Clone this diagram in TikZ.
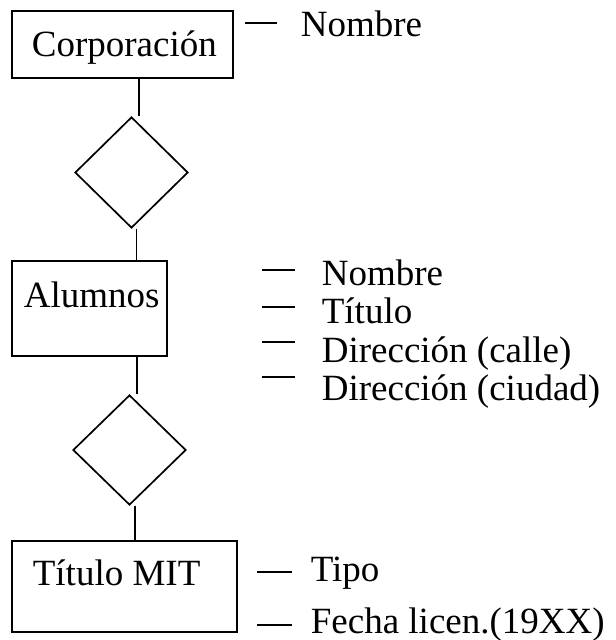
\documentclass[tikz,border=0pt]{standalone}
\usepackage{fontspec}
\setmainfont{Liberation Serif}
\usetikzlibrary{shapes.geometric,calc}
\begin{document}
\begin{tikzpicture}[x=1bp,y=-1bp,line width=1.7bp,
  entitybox/.style={draw,rectangle,inner sep=0pt},
  relbox/.style={draw,diamond,inner sep=0pt,minimum width=113bp},
  lbl/.style={font=\fontsize{37bp}{44bp}\selectfont,inner sep=0pt,anchor=base west}]
\useasboundingbox[fill=white] (0,0) rectangle (616,640);

% entities
\node[entitybox,minimum width=221bp,minimum height=67bp] (corp) at (122.5,44.5) {};
\node[entitybox,minimum width=155bp,minimum height=95bp] (alu) at (89.5,308.5) {};
\node[entitybox,minimum width=225bp,minimum height=91bp] (tit) at (124.5,586.5) {};

% relationships
\node[relbox,minimum height=111bp] (d1) at (131.5,172.5) {};
\node[relbox,minimum height=110bp] (d2) at (129.5,450) {};

% entity names
\node[lbl] (corpT) at (31,57) {Corporación};
\node[lbl] (aluT) at (23,307) {Alumnos};
\node[lbl] (titT) at (32,585) {Título MIT};

% attributes
\node[lbl] (nomA) at (300,37) {Nombre};
\node[lbl] (a1) at (321,285) {Nombre};
\node[lbl] (a2) at (321,323.5) {Título};
\node[lbl] (a3) at (321,362) {Dirección (calle)};
\node[lbl] (a4) at (321,400.5) {Dirección (ciudad)};
\node[lbl] (t1) at (310,581) {Tipo};
\node[lbl] (t2) at (310,633) {Fecha licen.(19XX)};

% attribute dashes
\draw ($(nomA.base west)+(-55,-14)$) -- ($(nomA.base west)+(-23,-14)$);
\draw ($(a1.base west)+(-59,-15)$) -- ($(a1.base west)+(-26,-15)$);
\draw ($(a2.base west)+(-59,-16.5)$) -- ($(a2.base west)+(-26,-16.5)$);
\draw ($(a3.base west)+(-59,-20)$) -- ($(a3.base west)+(-26,-20)$);
\draw ($(a4.base west)+(-59,-23.5)$) -- ($(a4.base west)+(-26,-23.5)$);
\draw ($(t1.base west)+(-53,-9)$) -- ($(t1.base west)+(-18,-9)$);
\draw ($(t2.base west)+(-53,-8)$) -- ($(t2.base west)+(-18,-8)$);

% connectors
\draw ($(corp.south)+(16.5,0)$) -- ($(d1.north)+(7.5,0)$);
\draw ($(d1.south)+(5,0)$) -- ($(alu.north)+(47,0)$);
\draw ($(alu.south)+(47.5,0)$) -- ($(d2.north)+(7.5,0)$);
\draw ($(d2.south)+(5.5,0)$) -- ($(tit.north)+(10.5,0)$);
\end{tikzpicture}
\end{document}
